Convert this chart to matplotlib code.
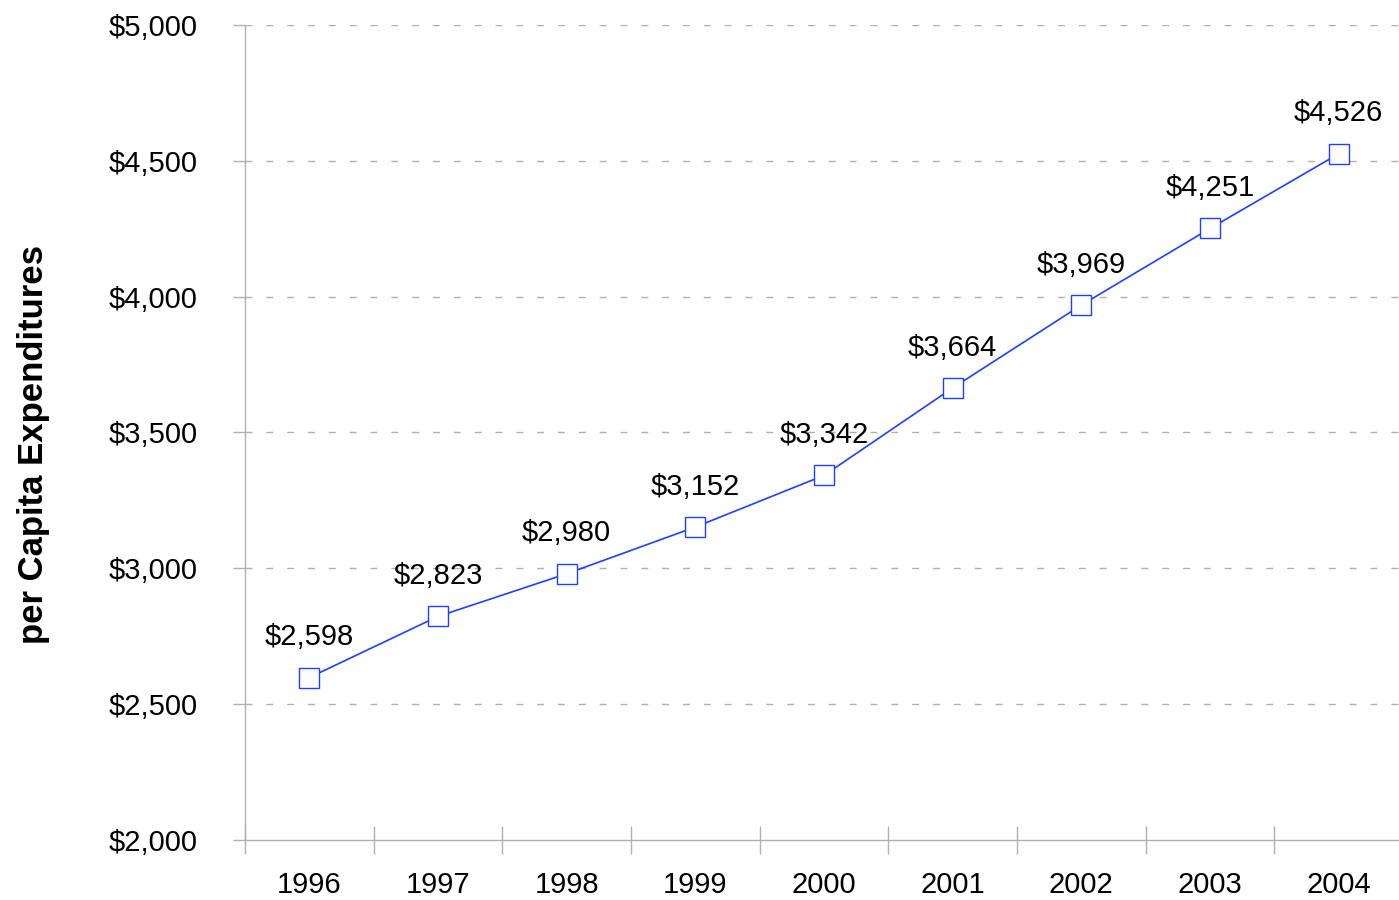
import matplotlib.pyplot as plt
import numpy as np

years = ["1996", "1997", "1998", "1999", "2000", "2001", "2002", "2003", "2004"]
spending = [2598, 2823, 2980, 3152, 3342, 3664, 3969, 4251, 4526]
y_ticks = [2000, 2500, 3000, 3500, 4000, 4500, 5000]

plt.rcParams['font.family'] = ['Liberation Sans', 'DejaVu Sans']

fig = plt.figure(figsize=(13.99, 9.0), dpi=100)
ax = fig.add_axes([245/1399, 60/900, 1158/1399, 815/900])

x = np.arange(len(years))
ax.plot(x, spending, color='#1f3fff', linewidth=1.2, marker='s', markersize=15,
        markerfacecolor='white', markeredgecolor='#1f3fff', markeredgewidth=1.0,
        zorder=3, clip_on=False)

for xi, v in zip(x, spending):
    ax.annotate("${:,}".format(v), (xi, v), xytext=(0, 19), textcoords='offset points',
                ha='center', va='bottom', fontsize=21)

ax.set_xlim(-0.5, len(years) - 0.5)
ax.set_ylim(2000, 5000)
ax.set_yticks(y_ticks)
ax.set_yticklabels(["${:,}".format(t) for t in y_ticks], fontsize=21)
ax.set_xticks(x)
ax.set_xticklabels(years, fontsize=21)
ax.tick_params(axis='x', length=0, pad=22)
ax.set_xticks(np.arange(-0.5, len(years), 1), minor=True)
ax.tick_params(axis='x', which='minor', direction='inout', length=20, color='#b0b0b0', width=1)
ax.tick_params(axis='y', direction='out', length=9, color='#b0b0b0', width=1, pad=25)

for t in y_ticks[1:]:
    ax.axhline(t, color='#b0b0b0', linewidth=1, linestyle=(0, (5, 10)), zorder=1)

for side in ['top', 'right']:
    ax.spines[side].set_visible(False)
for side in ['left', 'bottom']:
    ax.spines[side].set_color('#b0b0b0')
    ax.spines[side].set_linewidth(1)

ax.set_ylabel("per Capita Expenditures", fontsize=25, fontweight='bold')
ax.yaxis.set_label_coords(-0.168, 0.485)

fig.savefig("out.png", dpi=100)
